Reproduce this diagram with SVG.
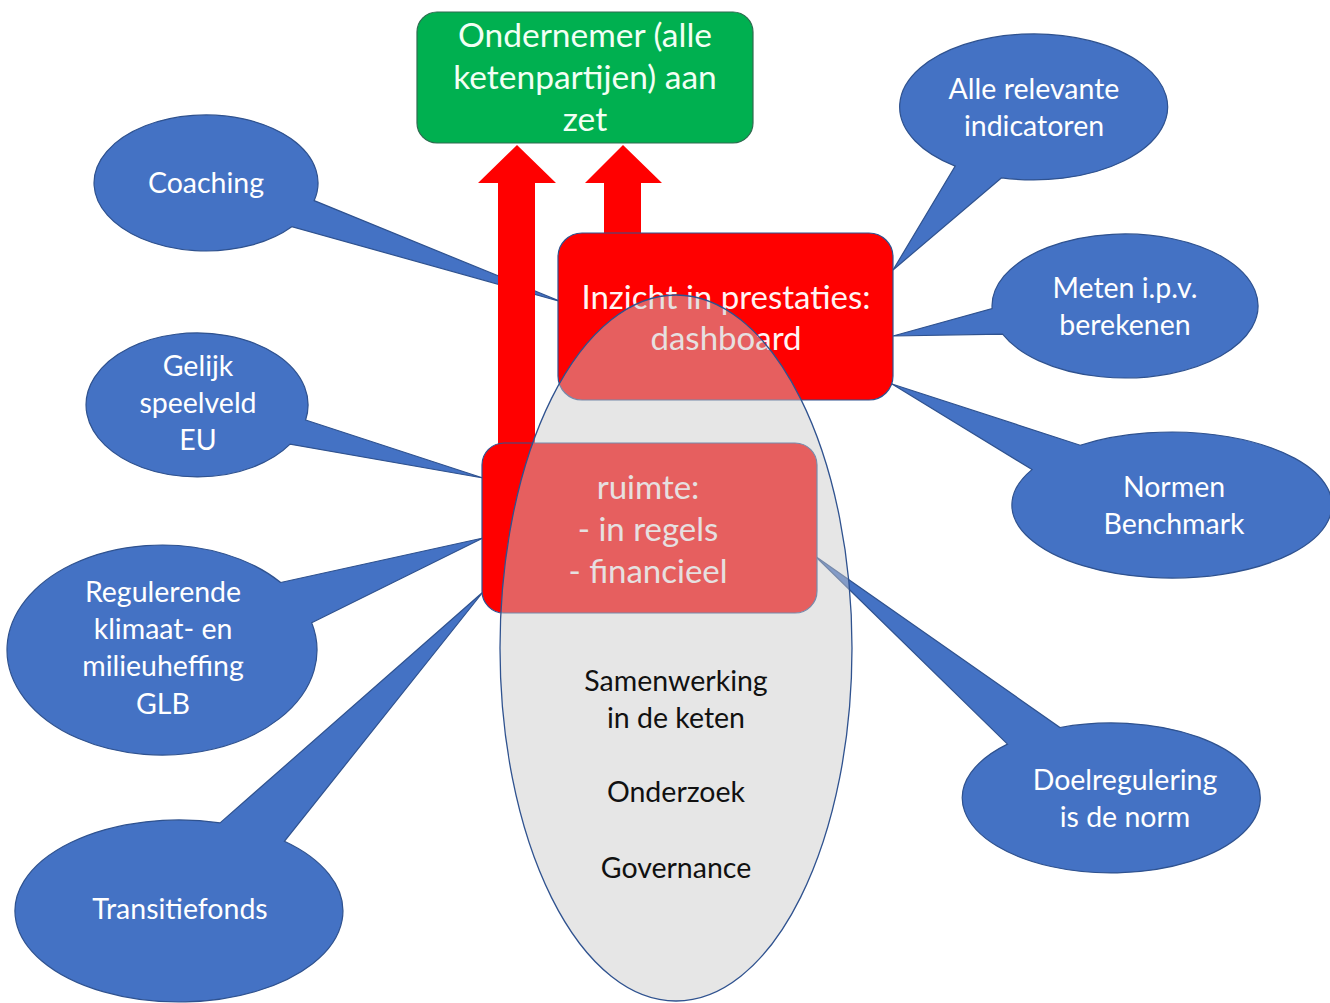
<svg xmlns="http://www.w3.org/2000/svg" width="1330" height="1003" viewBox="0 0 1330 1003">
<style>
.callout{fill:#4472C4;stroke:#2F528F;stroke-width:1.2}
.ct{font-family:Lato,"Liberation Sans",sans-serif;font-size:28.5px;fill:#FFFFFF;text-anchor:middle}
.bt{font-family:Lato,"Liberation Sans",sans-serif;font-size:33px;fill:#FFF4F4;text-anchor:middle}
.gt{font-family:Lato,"Liberation Sans",sans-serif;font-size:33.5px;fill:#F2FFF4;text-anchor:middle}
.et{font-family:Lato,"Liberation Sans",sans-serif;font-size:28.5px;fill:#111111;text-anchor:middle}
.redbox{fill:#FF0000;stroke:#2F528F;stroke-width:1.2}
.arrow{fill:#FF0000}
</style>
<rect width="1330" height="1003" fill="#FFFFFF"/>

<g id="callout-coaching">
<path class="callout" d="M314.2,200.6 L562,302 L291.8,226.7 A112,68 0 1 1 314.2,200.6 Z"/>
<text class="ct" x="206" y="193">Coaching</text>
</g>
<g id="callout-gelijk">
<path class="callout" d="M305.6,420 L483,478 L290.1,444.2 A111,72 0 1 1 305.6,420 Z"/>
<text class="ct" x="198" y="376">Gelijk</text>
<text class="ct" x="198" y="413">speelveld</text>
<text class="ct" x="198" y="450">EU</text>
</g>
<g id="callout-regulerende">
<path class="callout" d="M280.7,582.5 L483,538 L311.7,622.8 A155,105 0 1 1 280.7,582.5 Z"/>
<text class="ct" x="163" y="602">Regulerende</text>
<text class="ct" x="163" y="639">klimaat- en</text>
<text class="ct" x="163" y="676">milieuheffing</text>
<text class="ct" x="163" y="714">GLB</text>
</g>
<g id="callout-transitiefonds">
<path class="callout" d="M220.1,822.9 L483,592 L284.4,841.3 A164,91 0 1 1 220.1,822.9 Z"/>
<text class="ct" x="180" y="919">Transitiefonds</text>
</g>
<g id="callout-alle">
<path class="callout" d="M1001.6,177.8 L893,270 L955.2,166.1 A134,73 0 1 1 1001.6,177.8 Z"/>
<text class="ct" x="1034" y="99">Alle relevante</text>
<text class="ct" x="1034" y="136">indicatoren</text>
</g>
<g id="callout-meten">
<path class="callout" d="M1002.6,334.1 L893,336 L992.1,308.5 A133,72 0 1 1 1002.6,334.1 Z"/>
<text class="ct" x="1125" y="298">Meten i.p.v.</text>
<text class="ct" x="1125" y="335">berekenen</text>
</g>
<g id="callout-normen">
<path class="callout" d="M1032,469.6 L892,384 L1080.2,445.2 A160,73 0 1 1 1032,469.6 Z"/>
<text class="ct" x="1174" y="497">Normen</text>
<text class="ct" x="1174" y="534">Benchmark</text>
</g>
<g id="callout-doelregulering">
<path class="callout" d="M1007.5,744.1 L815,556 L1060,727.5 A149,75 0 1 1 1007.5,744.1 Z"/>
<text class="ct" x="1125" y="790">Doelregulering</text>
<text class="ct" x="1125" y="827">is de norm</text>
</g>

<g id="connectors">
<path class="arrow" d="M498,450 L498,183 L478,183 L517,145 L556,183 L535,183 L535,450 Z"/>
<path class="arrow" d="M604,240 L604,183 L585,183 L623,145 L662,183 L641,183 L641,240 Z"/>
</g>

<g id="ondernemer">
<rect x="417" y="12" width="336" height="131" rx="20" fill="#00B050" stroke="#2F6B4F" stroke-width="1.2"/>
<text class="gt" x="585" y="47">Ondernemer (alle</text>
<text class="gt" x="585" y="89">ketenpartijen) aan</text>
<text class="gt" x="585" y="131">zet</text>
</g>

<g id="inzicht">
<rect class="redbox" x="558" y="233" width="335" height="167" rx="24"/>
<text class="bt" x="726" y="309">Inzicht in prestaties:</text>
<text class="bt" x="726" y="350">dashboard</text>
</g>

<g id="ruimte">
<rect class="redbox" x="482" y="443" width="335" height="170" rx="22"/>
<text class="bt" x="648" y="499">ruimte:</text>
<text class="bt" x="648" y="541">- in regels</text>
<text class="bt" x="648" y="583">- financieel</text>
</g>

<g id="samenwerking">
<ellipse cx="676" cy="648" rx="176" ry="353" fill="#C9C9C9" fill-opacity="0.47" stroke="#2F528F" stroke-width="1.3"/>
<text class="et" x="676" y="691">Samenwerking</text>
<text class="et" x="676" y="728">in de keten</text>
<text class="et" x="676" y="802">Onderzoek</text>
<text class="et" x="676" y="878">Governance</text>
</g>
</svg>
